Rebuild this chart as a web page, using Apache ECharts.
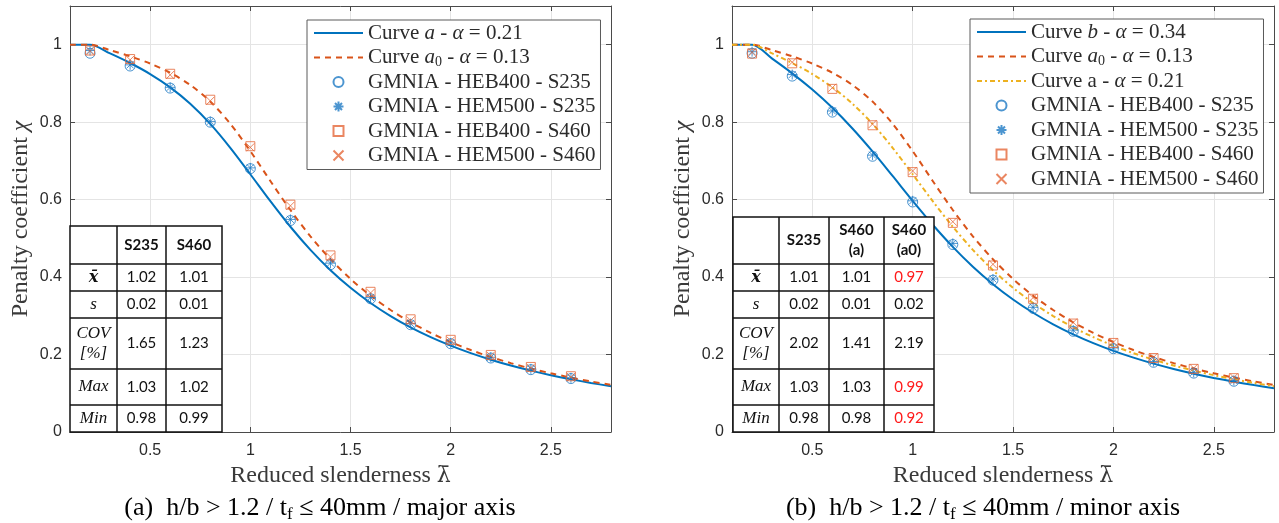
<!DOCTYPE html>
<html>
<head>
<meta charset="utf-8">
<script src="https://cdn.jsdelivr.net/npm/echarts@6/dist/echarts.min.js"></script>
<style>
  html, body { margin: 0; padding: 0; background: #fff; }
  #chart { width: 1279px; height: 523px; }
</style>
</head>
<body>
<div id="chart"></div>
<script>
// Reduced slenderness sampling of the design curves
const lambdaBar = [0.1, 0.2, 0.3, 0.4, 0.5, 0.6, 0.7, 0.8, 0.9, 1.0, 1.1, 1.2, 1.3, 1.4,
  1.5, 1.6, 1.7, 1.8, 1.9, 2.0, 2.1, 2.2, 2.3, 2.4, 2.5, 2.6, 2.7, 2.8];
// Buckling curve a (alpha = 0.21)
const curveA = [1, 1, 0.9775, 0.9528, 0.9243, 0.8900, 0.8477, 0.7957, 0.7339, 0.6656, 0.5960,
  0.5300, 0.4703, 0.4179, 0.3724, 0.3332, 0.2994, 0.2702, 0.2449, 0.2229, 0.2036, 0.1867,
  0.1717, 0.1585, 0.1467, 0.1362, 0.1267, 0.1182];
// Buckling curve a0 (alpha = 0.13)
const curveA0 = [1, 1, 0.9859, 0.9701, 0.9513, 0.9276, 0.8961, 0.8533, 0.7961, 0.7253, 0.6482,
  0.5732, 0.5053, 0.4461, 0.3953, 0.3520, 0.3150, 0.2833, 0.2559, 0.2323, 0.2117, 0.1937,
  0.1779, 0.1639, 0.1515, 0.1404, 0.1305, 0.1216];
// Buckling curve b (alpha = 0.34)
const curveB = [1, 1, 0.9641, 0.9261, 0.8842, 0.8371, 0.7837, 0.7245, 0.6612, 0.5970, 0.5352,
  0.4781, 0.4269, 0.3817, 0.3422, 0.3079, 0.2781, 0.2521, 0.2294, 0.2095, 0.1920, 0.1765,
  0.1628, 0.1506, 0.1397, 0.1299, 0.1211, 0.1132];

// GMNIA results
const gmniaLambda = [0.2, 0.4, 0.6, 0.8, 1.0, 1.2, 1.4, 1.6, 1.8, 2.0, 2.2, 2.4, 2.6];
const majorHEB400S235 = [0.978, 0.945, 0.888, 0.800, 0.680, 0.546, 0.432, 0.344, 0.277, 0.228, 0.191, 0.161, 0.138];
const majorHEM500S235 = [0.985, 0.948, 0.890, 0.802, 0.682, 0.549, 0.436, 0.347, 0.280, 0.230, 0.193, 0.163, 0.140];
const majorHEB400S460 = [0.985, 0.963, 0.925, 0.858, 0.738, 0.587, 0.456, 0.362, 0.291, 0.238, 0.199, 0.168, 0.144];
const majorHEM500S460 = [0.983, 0.961, 0.922, 0.855, 0.735, 0.584, 0.452, 0.359, 0.288, 0.236, 0.197, 0.166, 0.142];
const minorHEB400S235 = [0.978, 0.919, 0.826, 0.712, 0.594, 0.484, 0.392, 0.319, 0.260, 0.215, 0.180, 0.152, 0.131];
const minorHEM500S235 = [0.982, 0.923, 0.829, 0.715, 0.597, 0.487, 0.395, 0.322, 0.263, 0.217, 0.182, 0.154, 0.133];
const minorHEB400S460 = [0.977, 0.952, 0.886, 0.792, 0.671, 0.540, 0.430, 0.344, 0.280, 0.230, 0.191, 0.163, 0.139];
const minorHEM500S460 = [0.980, 0.955, 0.889, 0.795, 0.674, 0.543, 0.433, 0.347, 0.283, 0.232, 0.193, 0.165, 0.141];

// Statistics tables
const tableRowLabels = ['x\u0304', 's', 'COV\n[%]', 'Max', 'Min'];
const tableMajorHead = ['', 'S235', 'S460'];
const tableMajorValues = [
  ['1.02', '1.01'], ['0.02', '0.01'], ['1.65', '1.23'], ['1.03', '1.02'], ['0.98', '0.99']
];
const tableMinorHead = ['', 'S235', 'S460\n(a)', 'S460\n(a0)'];
const tableMinorValues = [
  ['1.01', '1.01', '0.97'], ['0.02', '0.01', '0.02'], ['2.02', '1.41', '2.19'],
  ['1.03', '1.03', '0.99'], ['0.98', '0.98', '0.92']
];
const tableMinorFlagged = [
  [false, false, true], [false, false, false], [false, false, false],
  [false, false, true], [false, false, true]
];

// Sub-figure captions: text, subscript, text
const captionMajor = ['(a)  h/b > 1.2 / t', 'f', ' \u2264 40mm / major axis'];
const captionMinor = ['(b)  h/b > 1.2 / t', 'f', ' \u2264 40mm / minor axis'];

// ---------------------------------------------------------------------------
const BLUE = '#0072BD', ORANGE = '#D95319', YELLOW = '#EDB120';
const MK_BLUE = '#1F7BC4', MK_ORANGE = '#E5683A';
const AXIS = '#4a4a4a', GRIDC = '#e4e4e4', TXT = '#2b2b2b';
const SERIF = "'Liberation Serif', 'DejaVu Serif', serif";
const SANS = "'Liberation Sans', Arial, sans-serif";

const SYM_ASTERISK = 'path://M5,0L5,10M0,5L10,5M1.5,1.5L8.5,8.5M8.5,1.5L1.5,8.5';
const SYM_CROSS = 'path://M0,0L10,10M10,0L0,10';
const SYM_SQUARE = 'path://M0,0L10,0L10,10L0,10Z';

const legendText = {
  'Curve a (major)': '{n|Curve }{i|a}{n| - }{i|\u03b1}{n| = 0.21}',
  'Curve a0 (major)': '{n|Curve }{i|a}{s|0}{n| - }{i|\u03b1}{n| = 0.13}',
  'Curve b (minor)': '{n|Curve }{i|b}{n| - }{i|\u03b1}{n| = 0.34}',
  'Curve a0 (minor)': '{n|Curve }{i|a}{s|0}{n| - }{i|\u03b1}{n| = 0.13}',
  'Curve a (minor)': '{n|Curve a - }{i|\u03b1}{n| = 0.21}',
  'HEB400 S235 (major)': '{n|GMNIA - HEB400 - S235}',
  'HEM500 S235 (major)': '{n|GMNIA - HEM500 - S235}',
  'HEB400 S460 (major)': '{n|GMNIA - HEB400 - S460}',
  'HEM500 S460 (major)': '{n|GMNIA - HEM500 - S460}',
  'HEB400 S235 (minor)': '{n|GMNIA - HEB400 - S235}',
  'HEM500 S235 (minor)': '{n|GMNIA - HEM500 - S235}',
  'HEB400 S460 (minor)': '{n|GMNIA - HEB400 - S460}',
  'HEM500 S460 (minor)': '{n|GMNIA - HEM500 - S460}'
};

function pairs(xs, ys) { return xs.map((x, i) => [x, ys[i]]); }

function curve(name, ys, color, type, panel) {
  return {
    type: 'line', name, xAxisIndex: panel * 2, yAxisIndex: panel * 2,
    data: pairs(lambdaBar, ys), symbol: 'none', smooth: 0.3, silent: true,
    lineStyle: { color, width: 2, type }, itemStyle: { color }, z: 2
  };
}

function markers(name, ys, symbol, size, color, panel) {
  return {
    type: 'scatter', name, xAxisIndex: panel * 2, yAxisIndex: panel * 2,
    data: pairs(gmniaLambda, ys), symbol, symbolSize: size, silent: true,
    itemStyle: { color: 'rgba(255,255,255,0)', borderColor: color, borderWidth: 1 }, z: 3
  };
}

function xAxes(panel) {
  const common = { type: 'value', gridIndex: panel, min: 0.1, max: 2.8, minInterval: 0.5, maxInterval: 0.5 };
  return [
    Object.assign({}, common, {
      position: 'bottom',
      axisLine: { show: true, onZero: false, lineStyle: { color: AXIS, width: 1 } },
      axisTick: { show: true, inside: true, length: 5, lineStyle: { color: AXIS } },
      axisLabel: { show: true, showMinLabel: false, showMaxLabel: false, margin: 11,
        fontFamily: SANS, fontSize: 16, color: TXT },
      splitLine: { show: true, lineStyle: { color: GRIDC, width: 1 } },
      name: 'Reduced slenderness {l|\u03bb\u0304}', nameLocation: 'middle', nameGap: 30,
      nameTextStyle: { fontFamily: SERIF, fontSize: 24, color: '#3a3a3a',
        rich: { l: { fontFamily: "'DejaVu Serif', serif", fontSize: 22, color: '#3a3a3a' } } }
    }),
    Object.assign({}, common, {
      position: 'top',
      axisLine: { show: true, onZero: false, lineStyle: { color: AXIS, width: 1 } },
      axisTick: { show: true, inside: true, length: 5, lineStyle: { color: AXIS } },
      axisLabel: { show: false }, splitLine: { show: false }
    })
  ];
}

function yAxes(panel) {
  const common = { type: 'value', gridIndex: panel, min: 0, max: 1.1, interval: 0.2 };
  return [
    Object.assign({}, common, {
      position: 'left',
      axisLine: { show: true, onZero: false, lineStyle: { color: AXIS, width: 1 } },
      axisTick: { show: true, inside: true, length: 5, lineStyle: { color: AXIS } },
      axisLabel: { show: true, showMaxLabel: false, margin: 8,
        fontFamily: SANS, fontSize: 16, color: TXT },
      splitLine: { show: true, lineStyle: { color: GRIDC, width: 1 } },
      name: 'Penalty coefficient {i|\u03c7}', nameLocation: 'middle', nameGap: 37,
      nameTextStyle: { fontFamily: SERIF, fontSize: 24, color: '#3a3a3a',
        rich: { i: { fontFamily: SERIF, fontSize: 24, fontStyle: 'italic', color: '#3a3a3a' } } }
    }),
    Object.assign({}, common, {
      position: 'right',
      axisLine: { show: true, onZero: false, lineStyle: { color: AXIS, width: 1 } },
      axisTick: { show: true, inside: true, length: 5, lineStyle: { color: AXIS } },
      axisLabel: { show: false }, splitLine: { show: false }
    })
  ];
}

const legendRich = {
  n: { fontFamily: SERIF, fontSize: 21, color: TXT, lineHeight: 24 },
  i: { fontFamily: SERIF, fontSize: 21, fontStyle: 'italic', color: TXT, lineHeight: 24 },
  s: { fontFamily: SERIF, fontSize: 14, color: TXT, lineHeight: 13, verticalAlign: 'bottom' }
};

// Line entries show only the stroke sample: the point marker of the icon is made invisible
function legendItem(name, kind) {
  if (kind === 'line') {
    return { name, itemStyle: { opacity: 0, color: 'rgba(0,0,0,0)', borderColor: 'rgba(0,0,0,0)', borderWidth: 0 } };
  }
  return { name };
}

function legend(left, top, items) {
  return {
    show: true, orient: 'vertical', left, top, selectedMode: false,
    backgroundColor: '#fff', borderColor: '#5a5a5a', borderWidth: 1,
    padding: [1, 5, 2, 6], itemGap: 0.5, itemWidth: 49, itemHeight: 10,
    symbolKeepAspect: true,
    data: items,
    formatter: (name) => legendText[name],
    textStyle: { fontFamily: SERIF, fontSize: 21, color: TXT, lineHeight: 24, rich: legendRich }
  };
}

function cellText(x, y, text, font, color) {
  return {
    type: 'text', x, y, z: 60,
    style: Object.assign({ text, align: 'center', verticalAlign: 'middle', fill: color, lineHeight: 20 }, font)
  };
}

function table(colX, rowY, head, rowLabels, values, flagged) {
  const els = [];
  const x0 = colX[0], x1 = colX[colX.length - 1], y0 = rowY[0], y1 = rowY[rowY.length - 1];
  const ink = '#111';
  els.push({ type: 'rect', z: 50, shape: { x: x0, y: y0, width: x1 - x0, height: y1 - y0 },
    style: { fill: '#fff', stroke: ink, lineWidth: 1.5 } });
  for (let i = 1; i < colX.length - 1; i++) {
    els.push({ type: 'line', z: 51, shape: { x1: colX[i], y1: y0, x2: colX[i], y2: y1 },
      style: { stroke: ink, lineWidth: 1.5 } });
  }
  for (let j = 1; j < rowY.length - 1; j++) {
    els.push({ type: 'line', z: 51, shape: { x1: x0, y1: rowY[j], x2: x1, y2: rowY[j] },
      style: { stroke: ink, lineWidth: 1.5 } });
  }
  const cx = (i) => (colX[i] + colX[i + 1]) / 2;
  const cy = (j) => (rowY[j] + rowY[j + 1]) / 2;
  const headFont = { fontFamily: "Lato, 'Open Sans', sans-serif", fontSize: 15, fontWeight: 'bold' };
  const labelFont = { fontFamily: SERIF, fontSize: 17, fontStyle: 'italic' };
  const valueFont = { fontFamily: "Lato, 'Open Sans', sans-serif", fontSize: 15 };
  head.forEach((h, i) => { if (h) els.push(cellText(cx(i), cy(0), h, headFont, ink)); });
  rowLabels.forEach((r, j) => {
    const f = j === 0 ? Object.assign({}, labelFont, { fontWeight: 'bold', fontFamily: "'DejaVu Serif', serif", fontSize: 16 }) : labelFont;
    els.push(cellText(cx(0), cy(j + 1), r, f, ink));
  });
  values.forEach((row, j) => row.forEach((v, i) => {
    const red = flagged && flagged[j][i];
    els.push(cellText(cx(i + 1), cy(j + 1), v, valueFont, red ? '#ff1a1a' : ink));
  }));
  return els;
}

function caption(x, y, parts) {
  return {
    type: 'text', x, y, z: 60,
    style: {
      text: '{n|' + parts[0] + '}{s|' + parts[1] + '}{n|' + parts[2] + '}',
      align: 'center', verticalAlign: 'middle',
      rich: {
        n: { fontFamily: SERIF, fontSize: 26, fill: '#000', lineHeight: 30 },
        s: { fontFamily: SERIF, fontSize: 17, fill: '#000', lineHeight: 20, verticalAlign: 'bottom' }
      }
    }
  };
}

const option = {
  backgroundColor: '#fff',
  animation: false,
  grid: [
    { left: 70, top: 6, width: 541, height: 426, show: false },
    { left: 732, top: 6, width: 542, height: 426, show: false }
  ],
  xAxis: xAxes(0).concat(xAxes(1)),
  yAxis: yAxes(0).concat(yAxes(1)),
  legend: [
    legend(307, 20, [
      legendItem('Curve a (major)', 'line'), legendItem('Curve a0 (major)', 'line'),
      legendItem('HEB400 S235 (major)'), legendItem('HEM500 S235 (major)'),
      legendItem('HEB400 S460 (major)'), legendItem('HEM500 S460 (major)')
    ]),
    legend(970, 19, [
      legendItem('Curve b (minor)', 'line'), legendItem('Curve a0 (minor)', 'line'),
      legendItem('Curve a (minor)', 'line'),
      legendItem('HEB400 S235 (minor)'), legendItem('HEM500 S235 (minor)'),
      legendItem('HEB400 S460 (minor)'), legendItem('HEM500 S460 (minor)')
    ])
  ],
  series: [
    curve('Curve a (major)', curveA, BLUE, 'solid', 0),
    curve('Curve a0 (major)', curveA0, ORANGE, [6, 5], 0),
    markers('HEB400 S235 (major)', majorHEB400S235, 'circle', 10, MK_BLUE, 0),
    markers('HEM500 S235 (major)', majorHEM500S235, SYM_ASTERISK, 10, MK_BLUE, 0),
    markers('HEB400 S460 (major)', majorHEB400S460, SYM_SQUARE, 9, MK_ORANGE, 0),
    markers('HEM500 S460 (major)', majorHEM500S460, SYM_CROSS, 8, MK_ORANGE, 0),

    curve('Curve b (minor)', curveB, BLUE, 'solid', 1),
    curve('Curve a0 (minor)', curveA0, ORANGE, [6, 5], 1),
    curve('Curve a (minor)', curveA, YELLOW, [5, 3, 2, 3], 1),
    markers('HEB400 S235 (minor)', minorHEB400S235, 'circle', 10, MK_BLUE, 1),
    markers('HEM500 S235 (minor)', minorHEM500S235, SYM_ASTERISK, 10, MK_BLUE, 1),
    markers('HEB400 S460 (minor)', minorHEB400S460, SYM_SQUARE, 9, MK_ORANGE, 1),
    markers('HEM500 S460 (minor)', minorHEM500S460, SYM_CROSS, 8, MK_ORANGE, 1)
  ],
  graphic: {
    elements: []
      .concat(table([70, 117, 166, 222], [226, 264, 291, 318, 369, 405, 432],
        tableMajorHead, tableRowLabels, tableMajorValues, null))
      .concat(table([733, 779, 829, 884, 934], [217, 264, 291, 318, 369, 405, 432],
        tableMinorHead, tableRowLabels, tableMinorValues, tableMinorFlagged))
      .concat([caption(320, 508, captionMajor), caption(983, 508, captionMinor)])
  }
};

const chart = echarts.init(document.getElementById('chart'), null, { renderer: 'canvas' });
chart.setOption(option);
</script>
</body>
</html>
